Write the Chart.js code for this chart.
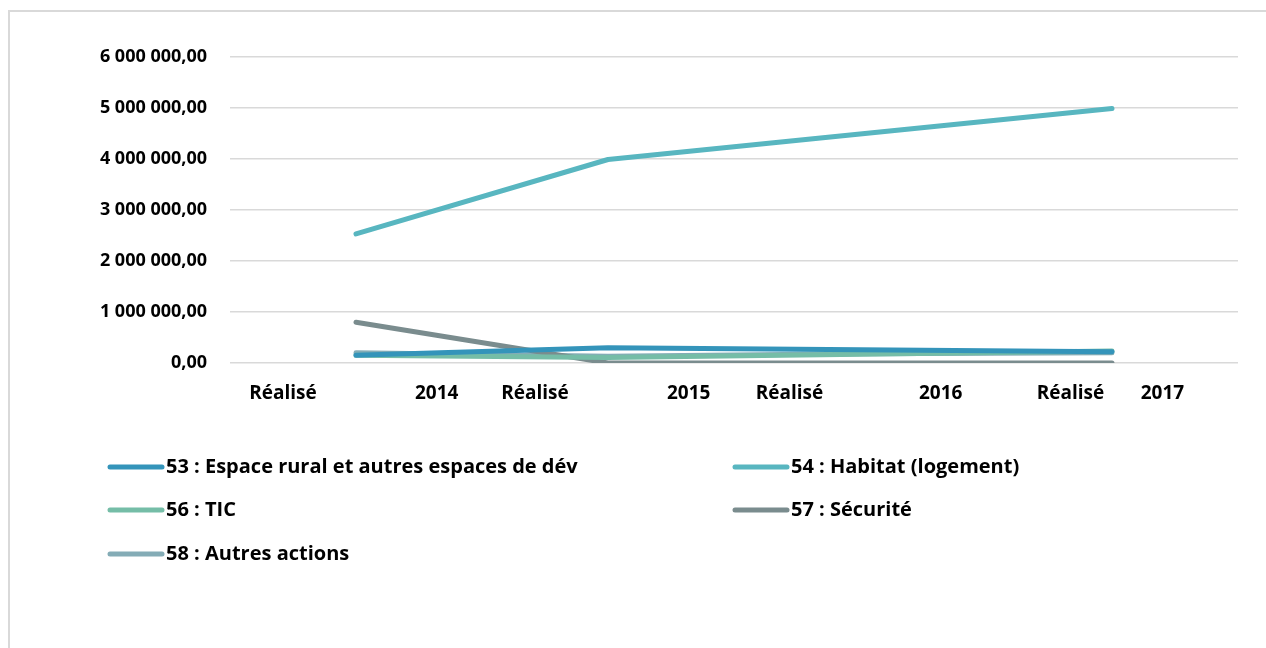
<!DOCTYPE html>
<html>
<head>
<meta charset="utf-8">
<script src="https://cdn.jsdelivr.net/npm/chart.js@4"></script>
<style>
  html, body { margin: 0; padding: 0; background: #fff; overflow: hidden; }
  #frame { position: absolute; left: 8px; top: 10px; width: 1300px; height: 700px;
           border-top: 2px solid #d9d9d9; border-left: 2px solid #d9d9d9; }
  #wrap { position: absolute; left: 0; top: 0; width: 1266px; height: 648px; }
</style>
</head>
<body>
<div id="frame"></div>
<div id="wrap"><canvas id="c" width="1266" height="648"></canvas></div>
<script>
// ---- data ----
const categories = ['Réalisé 2014', 'Réalisé 2015', 'Réalisé 2016', 'Réalisé 2017'];
const periodLabels = ['Réalisé', 'Réalisé', 'Réalisé', 'Réalisé'];
const yearLabels = ['2014', '2015', '2016', '2017'];
const seriesNames = [
  '53 : Espace rural et autres espaces de dév',
  '54 : Habitat (logement)',
  '56 : TIC',
  '57 : Sécurité',
  '58 : Autres actions'
];
const s53 = [150000, 300000, 260000, 220000];
const s54 = [2530000, 3990000, 4490000, 4990000];
const s56 = [150000, 110000, 170000, 235000];
const s57 = [800000, 0, 0, 0];
const s58 = [200000, 130000, 180000, 200000];
const yTicks = [0, 1000000, 2000000, 3000000, 4000000, 5000000, 6000000];

const colors = ['#3494BA', '#58B6C0', '#75BDA7', '#7A8C8E', '#84ACB6'];
const FONT = '"Open Sans", "DejaVu Sans", sans-serif';

function fmt(v) {
  const parts = Math.round(v).toString().replace(/\B(?=(\d{3})+(?!\d))/g, ' ');
  return parts + ',00';
}

const seriesData = [s53, s54, s56, s57, s58];

// x labels: Excel draws "Réalisé" and the year on either side of the category centre
const labelOffsets = [[-0.29, 0.32], [-0.29, 0.32], [-0.28, 0.32], [-0.165, 0.20]];

const xLabelsPlugin = {
  id: 'xLabels',
  afterDraw(chart) {
    const ctx = chart.ctx, x = chart.scales.x;
    const w = x.getPixelForValue(1) - x.getPixelForValue(0);
    ctx.save();
    ctx.font = 'bold 19px ' + FONT;
    ctx.fillStyle = '#000';
    ctx.textAlign = 'center';
    ctx.textBaseline = 'middle';
    const y = chart.chartArea.bottom + 31;
    categories.forEach((c, i) => {
      const cx = x.getPixelForValue(i);
      ctx.fillText(periodLabels[i], cx + labelOffsets[i][0] * w, y);
      ctx.fillText(yearLabels[i], cx + labelOffsets[i][1] * w, y);
    });
    ctx.restore();
  }
};

const legendPlugin = {
  id: 'gridLegend',
  afterDraw(chart) {
    const ctx = chart.ctx;
    ctx.save();
    ctx.font = 'bold 20px ' + FONT;
    ctx.textBaseline = 'middle';
    ctx.textAlign = 'left';
    const colX = [108, 733];
    const rowY = [467, 510, 554];
    chart.data.datasets.forEach((ds, i) => {
      const cx = colX[i % 2], cy = rowY[Math.floor(i / 2)];
      ctx.strokeStyle = ds.borderColor;
      ctx.lineWidth = 5;
      ctx.lineCap = 'round';
      ctx.beginPath();
      ctx.moveTo(cx + 2, cy);
      ctx.lineTo(cx + 54, cy);
      ctx.stroke();
      ctx.fillStyle = '#000';
      ctx.fillText(ds.label, cx + 58, cy);
    });
    ctx.restore();
  }
};

new Chart(document.getElementById('c'), {
  type: 'line',
  data: {
    labels: categories,
    datasets: seriesNames.map((n, i) => ({
      label: n,
      data: seriesData[i],
      borderColor: colors[i],
      backgroundColor: colors[i],
      borderWidth: 5,
      borderCapStyle: 'round',
      borderJoinStyle: 'round',
      pointRadius: 0,
      tension: 0,
      fill: false
    }))
  },
  options: {
    responsive: false,
    animation: false,
    layout: { padding: { top: 57, right: 28, left: 0, bottom: 0 } },
    plugins: { legend: { display: false }, tooltip: { enabled: false } },
    scales: {
      x: {
        offset: true,
        grid: { display: false, drawTicks: false },
        border: { display: false },
        ticks: { display: false },
        afterFit(s) { s.height = 285; }
      },
      y: {
        min: 0, max: 6000000,
        afterBuildTicks(s) { s.ticks = yTicks.map(v => ({ value: v })); },
        grid: { color: '#d9d9d9', lineWidth: 1.5, drawTicks: false },
        border: { display: false },
        ticks: {
          padding: 23,
          color: '#000',
          font: { family: FONT, size: 18, weight: 'bold' },
          callback: v => fmt(v)
        },
        afterFit(s) { s.width = 230; }
      }
    }
  },
  plugins: [xLabelsPlugin, legendPlugin]
});
</script>
</body>
</html>
